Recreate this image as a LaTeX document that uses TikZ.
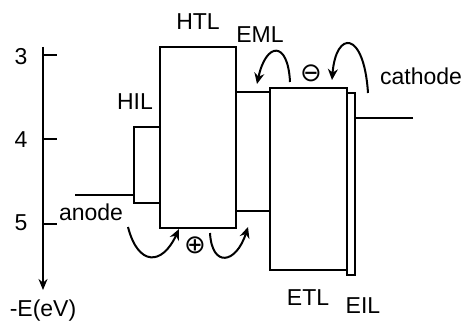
\documentclass[tikz,border=0pt]{standalone}
\usepackage{fontspec}
\setmainfont{Liberation Sans}
\newfontfamily\djv{DejaVu Sans}
\usetikzlibrary{arrows.meta}
\begin{document}
\begin{tikzpicture}[x=1pt,y=-1pt,
  lay/.style={draw,line width=1.6pt,inner sep=0pt},
  lbl/.style={inner sep=0pt,anchor=base,font=\fontsize{23}{25}\selectfont},
  sym/.style={inner sep=0pt,font=\djv\fontsize{26}{28}\selectfont},
  cur/.style={line width=2pt,-{Stealth[length=11pt,width=10pt]}},
  ln/.style={line width=1.6pt}]
\useasboundingbox (0,0) rectangle (464,321);
% axis
\coordinate (atop) at (43,47);
\coordinate (abot) at (43,290);
\draw[line width=2pt,-{Stealth[length=11pt,width=9pt]}] (atop) -- (abot);
\foreach \yy in {55,139,224}{
  \draw[ln] (43,\yy) -- (57,\yy);
}
\node[lbl] (l3) at (21,65) {3};
\node[lbl] (l4) at (21,148) {4};
\node[lbl] (l5) at (21,230) {5};
\node[lbl] (le) at (43,316) {-E(eV)};
% layers
\node[lay,minimum width=26pt,minimum height=76pt] (hil) at (147,165) {};
\node[lay,minimum width=76pt,minimum height=181pt] (htl) at (198,137.5) {};
\node[lay,minimum width=34pt,minimum height=119pt] (eml) at (253,151.5) {};
\node[lay,minimum width=77pt,minimum height=182pt] (etl) at (308.5,179) {};
\node[lay,minimum width=8pt,minimum height=182pt] (eil) at (351,184) {};
% electrodes
\coordinate (an) at (75,195);
\coordinate (ca) at (413,118);
\draw[ln] (an) -- (an -| hil.west);
\draw[ln] (ca) -- (ca -| eil.east);
% labels
\node[lbl] (thil) at (135,110) {HIL};
\node[lbl] (tan) at (91,220) {anode};
\node[lbl] (thtl) at (198,30) {HTL};
\node[lbl] (teml) at (260,43) {EML};
\node[lbl] (tca) at (421,85) {cathode};
\node[lbl] (tetl) at (308,305) {ETL};
\node[lbl] (teil) at (363,313) {EIL};
\node[sym] (plus) at (195,245) {⊕};
\node[sym] (minus) at (311,73) {⊖};
% curved arrows
\coordinate (a1s) at (128,227); \coordinate (a1e) at (179,229);
\coordinate (a2s) at (210,233); \coordinate (a2e) at (248,227);
\coordinate (a3s) at (290,82);  \coordinate (a3e) at (257,84);
\coordinate (a4s) at (368,93);  \coordinate (a4e) at (332,80);
\draw[cur] (a1s) .. controls (138,266) and (162,266) .. (a1e);
\draw[cur] (a2s) .. controls (212,268) and (236,264) .. (a2e);
\draw[cur] (a3s) .. controls (288,40) and (266,42) .. (a3e);
\draw[cur] (a4s) .. controls (364,30) and (336,30) .. (a4e);
\end{tikzpicture}
\end{document}
